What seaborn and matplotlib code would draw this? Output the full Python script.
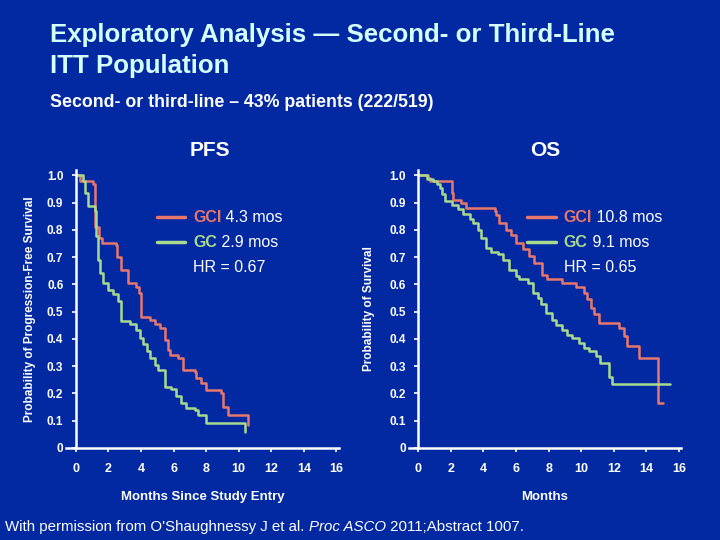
import matplotlib
matplotlib.use("Agg")
import seaborn as sns
from matplotlib import pyplot as plt

# Kaplan-Meier style step data (months, survival probability)
pfs_gci_t = [0, 0.25, 1.06, 1.15, 1.4, 1.6, 2.45, 2.5, 2.8, 3.2, 3.72, 3.85, 4.03,
             4.54, 4.85, 5.15, 5.46, 5.66, 5.77, 6.28, 6.58, 7.3, 7.4, 7.7, 8.0,
             8.94, 9.04, 9.35, 10.6]
pfs_gci_s = [1.0, 0.98, 0.967, 0.81, 0.77, 0.75, 0.744, 0.70, 0.654, 0.605, 0.59,
             0.57, 0.48, 0.47, 0.455, 0.44, 0.397, 0.36, 0.34, 0.33, 0.287, 0.28,
             0.257, 0.24, 0.213, 0.20, 0.152, 0.121, 0.085]

pfs_gc_t = [0, 0.45, 0.55, 0.76, 1.17, 1.27, 1.37, 1.47, 1.68, 1.98, 2.29, 2.6,
            2.8, 3.31, 3.72, 3.93, 4.13, 4.34, 4.54, 4.85, 5.05, 5.46, 5.87, 6.18,
            6.48, 6.79, 7.3, 7.5, 8.0, 10.37]
pfs_gc_s = [1.0, 0.98, 0.936, 0.887, 0.869, 0.777, 0.69, 0.642, 0.605, 0.58,
            0.565, 0.538, 0.464, 0.455, 0.434, 0.403, 0.38, 0.354, 0.33, 0.305,
            0.287, 0.225, 0.215, 0.19, 0.164, 0.145, 0.14, 0.121, 0.091, 0.06]

os_gci_t = [0, 0.61, 0.71, 1.02, 2.04, 2.13, 2.65, 2.95, 4.68, 4.78, 4.98, 5.39,
            5.7, 6.0, 6.4, 6.81, 7.12, 7.62, 7.93, 8.84, 9.66, 10.16, 10.37, 10.57,
            10.77, 11.08, 12.3, 12.6, 12.8, 13.52, 14.74, 15.04]
os_gci_s = [1.0, 0.99, 0.98, 0.98, 0.936, 0.91, 0.9, 0.88, 0.87, 0.855, 0.826,
            0.80, 0.78, 0.752, 0.728, 0.703, 0.68, 0.636, 0.62, 0.605, 0.59,
            0.569, 0.545, 0.514, 0.49, 0.458, 0.44, 0.41, 0.373, 0.33, 0.164, 0.164]

os_gc_t = [0, 0.51, 0.91, 1.12, 1.32, 1.43, 1.63, 2.04, 2.44, 2.74, 3.15, 3.35,
           3.66, 3.87, 4.17, 4.48, 4.88, 5.18, 5.59, 6.0, 6.2, 6.71, 7.01, 7.32,
           7.52, 7.83, 8.23, 8.44, 8.84, 9.15, 9.45, 9.86, 10.16, 10.47, 10.88,
           11.18, 11.69, 11.89, 15.45]
os_gc_s = [1.0, 0.985, 0.98, 0.967, 0.955, 0.93, 0.906, 0.89, 0.875, 0.86, 0.84,
           0.826, 0.80, 0.77, 0.734, 0.72, 0.71, 0.69, 0.654, 0.63, 0.62, 0.605,
           0.57, 0.55, 0.529, 0.495, 0.47, 0.452, 0.434, 0.416, 0.403, 0.385,
           0.367, 0.355, 0.336, 0.311, 0.262, 0.235, 0.235]

x_ticks = [0, 2, 4, 6, 8, 10, 12, 14, 16]
y_ticks = [0, 0.1, 0.2, 0.3, 0.4, 0.5, 0.6, 0.7, 0.8, 0.9, 1.0]
y_ticklabels = ["0", "0.1", "0.2", "0.3", "0.4", "0.5", "0.6", "0.7", "0.8", "0.9", "1.0"]

BG = "#0229A2"
RED = "#E8776C"
GREEN = "#A9D98E"
WHITE = "white"
TITLE = "#D4FFFF"

sns.set_theme(style="ticks")
plt.rcParams["font.family"] = ["Liberation Sans", "DejaVu Sans"]

fig = plt.figure(figsize=(7.2, 5.4), dpi=100)
fig.patch.set_facecolor(BG)

ax_pfs = fig.add_axes([0.0917, 0.1704, 0.379, 0.515])
ax_os = fig.add_axes([0.5674, 0.1704, 0.379, 0.515])


def style_axis(ax, xlabel, ylabel, ylabel_x):
    ax.set_facecolor(BG)
    ax.set_xlim(-0.6, 16.15)
    ax.set_ylim(0, 1.02)
    ax.set_xticks(x_ticks)
    ax.set_yticks(y_ticks)
    ax.set_yticklabels(y_ticklabels)
    for side in ["top", "right"]:
        ax.spines[side].set_visible(False)
    ax.spines["left"].set_position(("data", 0))
    ax.spines["left"].set_color(WHITE)
    ax.spines["bottom"].set_color(WHITE)
    ax.spines["left"].set_linewidth(1.8)
    ax.spines["bottom"].set_linewidth(1.8)
    ax.tick_params(colors=WHITE, width=1.2, length=3)
    ax.tick_params(axis="x", pad=8, labelsize=9)
    ax.tick_params(axis="y", pad=6, labelsize=8.5)
    for lab in ax.get_xticklabels() + ax.get_yticklabels():
        lab.set_fontweight("bold")
    ax.set_xlabel(xlabel, color=WHITE, fontsize=9.5, fontweight="bold", labelpad=11)
    ax.set_ylabel(ylabel, color=WHITE, fontsize=8.5, fontweight="bold")
    ax.yaxis.set_label_coords(ylabel_x, 0.5)


def km(ax, t, s, color):
    sns.lineplot(x=t, y=s, ax=ax, color=color, drawstyle="steps-post",
                 estimator=None, sort=False, linewidth=1.8)


km(ax_pfs, pfs_gci_t, pfs_gci_s, RED)
km(ax_pfs, pfs_gc_t, pfs_gc_s, GREEN)
km(ax_os, os_gci_t, os_gci_s, RED)
km(ax_os, os_gc_t, os_gc_s, GREEN)

style_axis(ax_pfs, "Months Since Study Entry", "Probability of Progression-Free Survival", -0.11)
style_axis(ax_os, "Months", "Probability of Survival", -0.122)


def legend_block(ax, x0, x1, xt, y, gci, gc, hr):
    dy = 0.092
    for i, (name, val, col) in enumerate([("GCI", gci, RED), ("GC", gc, GREEN)]):
        yy = y - i * dy
        ax.plot([x0, x1], [yy, yy], color=col, linewidth=2.5)
        t = ax.text(xt, yy, name, color=col, fontsize=11.5, fontweight="bold",
                    va="center", ha="left")
        ax.annotate(" " + val, xy=(1, 0.5), xycoords=t, va="center", ha="left",
                    color=WHITE, fontsize=11.5)
    ax.text(xt, y - 2 * dy, hr, color=WHITE, fontsize=11.5, va="center", ha="left")


legend_block(ax_pfs, 4.97, 6.7, 7.2, 0.846, "4.3 mos", "2.9 mos", "HR = 0.67")
legend_block(ax_os, 6.68, 8.45, 8.93, 0.846, "10.8 mos", "9.1 mos", "HR = 0.65")

fig.text(0.069, 0.957, "Exploratory Analysis \u2014 Second- or Third-Line\nITT Population",
         color=TITLE, fontsize=18.6, fontweight="bold", va="top", ha="left",
         linespacing=1.35)
fig.text(0.069, 0.811, "Second- or third-line \u2013 43% patients (222/519)",
         color=WHITE, fontsize=12.8, fontweight="bold", va="center", ha="left")
fig.text(0.292, 0.722, "PFS", color=WHITE, fontsize=15, fontweight="bold",
         va="center", ha="center")
fig.text(0.757, 0.722, "OS", color=WHITE, fontsize=15, fontweight="bold",
         va="center", ha="center")

f1 = fig.text(0.007, 0.024, "With permission from O'Shaughnessy J et al. ",
              color=WHITE, fontsize=10.8, va="center", ha="left")
f2 = ax_pfs.annotate("Proc ASCO", xy=(1, 0.5), xycoords=f1, va="center", ha="left",
                     color=WHITE, fontsize=10.8, style="italic", annotation_clip=False)
ax_pfs.annotate(" 2011;Abstract 1007.", xy=(1, 0.5), xycoords=f2, va="center",
                ha="left", color=WHITE, fontsize=10.8, annotation_clip=False)

fig.savefig("out.png", dpi=100, facecolor=BG)
